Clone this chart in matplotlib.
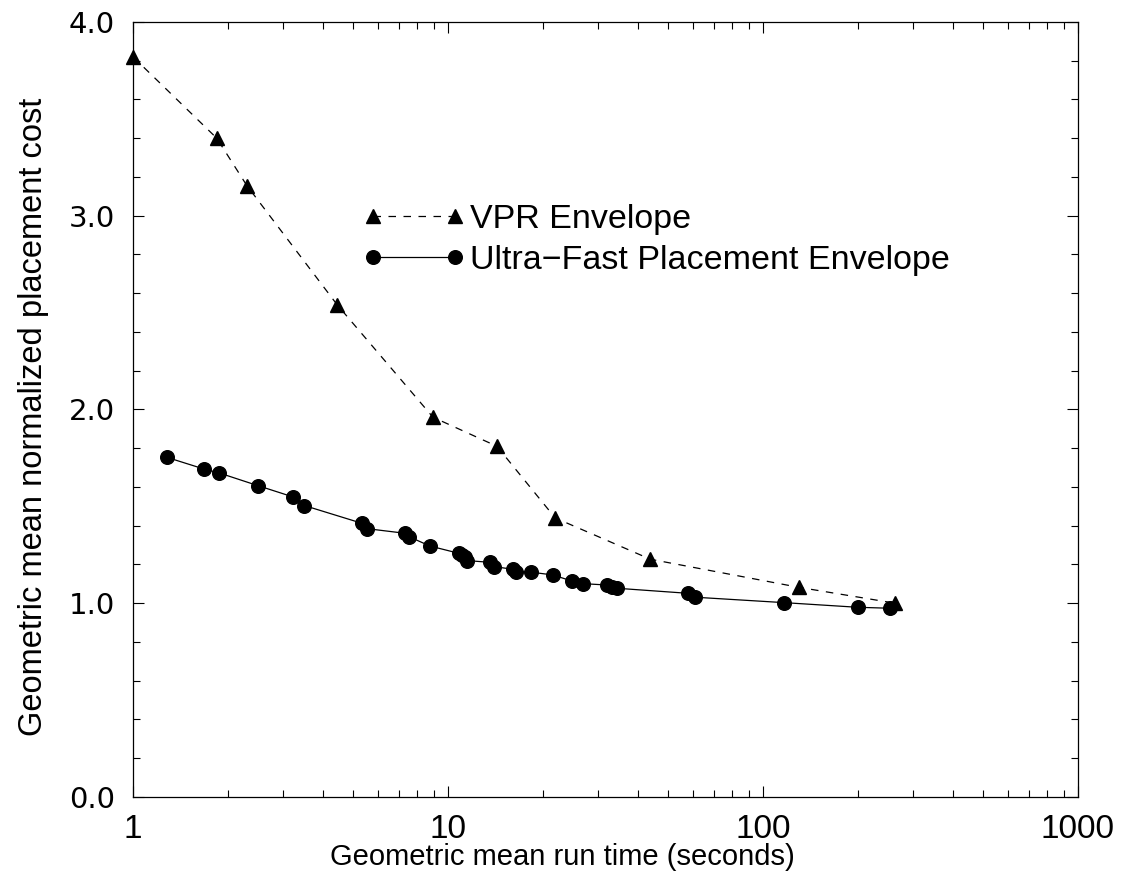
#placement envelopes: VPR vs ultra-fast placement
import matplotlib
matplotlib.use("Agg")
import matplotlib.pyplot as plt
from matplotlib.ticker import FixedLocator, NullFormatter

#VPR envelope (run time in seconds, normalized cost)
vprTime = [1.0, 1.845, 2.30, 4.45, 8.96, 14.3, 21.9, 43.9, 130, 263]
vprCost = [3.82, 3.40, 3.155, 2.54, 1.96, 1.81, 1.44, 1.227, 1.082, 1.00]

#ultra-fast placement envelope
ufpTime = [1.28, 1.677, 1.88, 2.49, 3.23, 3.50, 5.32, 5.52, 7.30, 7.50,
           8.77, 10.8, 11.05, 11.3, 11.5, 13.6, 14.0, 16.1, 16.4, 18.4,
           21.5, 24.7, 26.8, 31.9, 33.1, 34.5, 57.9, 60.8, 116.6, 199.6, 253]
ufpCost = [1.753, 1.693, 1.672, 1.607, 1.548, 1.504, 1.413, 1.385, 1.361, 1.344,
           1.295, 1.258, 1.249, 1.237, 1.220, 1.211, 1.189, 1.175, 1.163, 1.160,
           1.146, 1.115, 1.101, 1.094, 1.085, 1.077, 1.051, 1.031, 1.003, 0.979, 0.974]

xTicks = [1, 10, 100, 1000]
xTickLabels = ["1", "10", "100", "1000"]
yTicks = [0.0, 1.0, 2.0, 3.0, 4.0]
yTickLabels = ["0.0", "1.0", "2.0", "3.0", "4.0"]

plt.rcParams['font.family'] = ['Liberation Sans', 'DejaVu Sans']

fig = plt.figure(figsize=(11.29, 8.86), dpi=100)
ax = fig.add_axes([0.1178, 0.1005, 0.837, 0.8747])

ax.plot(vprTime, vprCost, color="black", linestyle=(0, (6, 6)), linewidth=0.9,
        marker="^", markersize=10.5, clip_on=False, label="VPR Envelope", zorder=3)
ax.plot(ufpTime, ufpCost, color="black", linestyle="-", linewidth=0.9,
        marker="o", markersize=9.8, clip_on=False, label="Ultra\u2212Fast Placement Envelope", zorder=3)

ax.set_xscale("log")
ax.set_xlim(1, 1000)
ax.set_ylim(0, 4)

ax.xaxis.set_major_locator(FixedLocator(xTicks))
ax.set_xticklabels(xTickLabels, fontsize=24)
minors = [m * d for d in (1, 10, 100) for m in range(2, 10)]
ax.xaxis.set_minor_locator(FixedLocator(minors))
ax.xaxis.set_minor_formatter(NullFormatter())

ax.yaxis.set_major_locator(FixedLocator(yTicks))
ax.set_yticklabels(yTickLabels, fontfamily="DejaVu Sans", fontsize=21)
ax.yaxis.set_minor_locator(FixedLocator([i * 0.2 for i in range(21)]))

ax.tick_params(which="both", direction="in", top=True, right=True, width=0.8)
ax.tick_params(which="major", length=8)
ax.tick_params(which="minor", length=5)
ax.tick_params(axis="x", which="major", pad=12)
ax.tick_params(axis="y", which="major", pad=13)
for s in ax.spines.values():
    s.set_linewidth(0.9)

ax.set_xlabel("Geometric mean run time (seconds)", fontsize=21)
ax.xaxis.set_label_coords(0.454, -0.060)
ax.set_ylabel("Geometric mean normalized placement cost", fontsize=23.5)
ax.yaxis.set_label_coords(-0.0887, 0.49)

ax.legend(loc="upper left", bbox_to_anchor=(0.2434, 0.765), frameon=False,
          numpoints=2, handlelength=3.0, fontsize=24.5, labelspacing=0.3,
          handletextpad=0.15, borderpad=0, borderaxespad=0)

fig.savefig("out.png", dpi=100)
